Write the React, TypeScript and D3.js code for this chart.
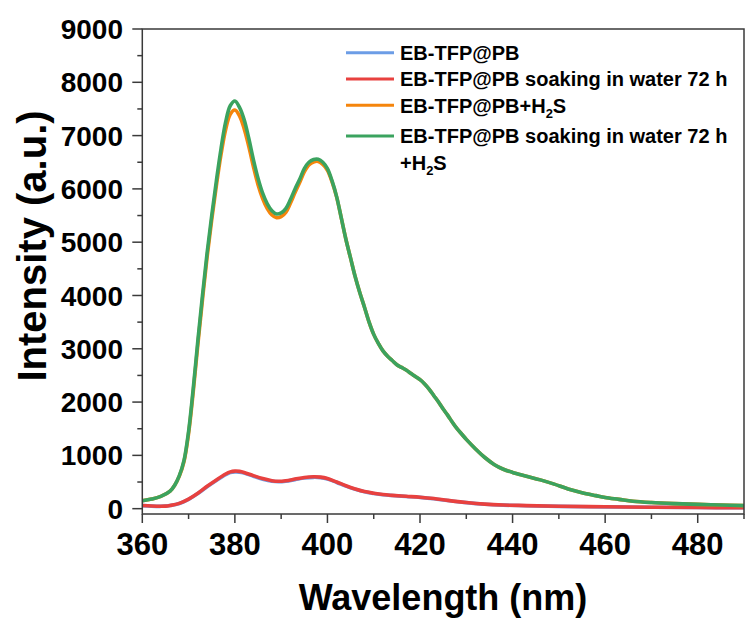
import React from "react";
import * as d3 from "d3";

// Emission spectra, wavelength (nm) vs. intensity (a.u.)
const wlGreen = [360, 362, 364, 366, 367, 368, 369, 370, 371, 372, 373, 374, 375, 376, 377, 378, 379, 380, 381, 382, 383, 384, 385, 386, 387, 388, 389, 390, 391, 392, 393, 394, 395, 396, 397, 398, 399, 400, 401, 402, 403, 404, 405, 406, 407, 408, 409, 410, 411, 412, 413, 414, 415, 416, 417, 418, 419, 420, 421, 422, 423, 424, 425, 426, 427, 428, 429, 430, 432, 434, 436, 438, 440, 443, 446, 449, 452, 455, 458, 460, 463, 466, 470, 475, 480, 485, 490];
const soakedH2S = [150, 180, 230, 330, 440, 620, 900, 1450, 2250, 3150, 4000, 4800, 5500, 6150, 6750, 7250, 7560, 7650, 7530, 7300, 6950, 6550, 6200, 5920, 5720, 5590, 5530, 5550, 5630, 5800, 6000, 6180, 6380, 6500, 6550, 6555, 6500, 6380, 6150, 5850, 5450, 5050, 4700, 4350, 4050, 3780, 3500, 3270, 3100, 2960, 2860, 2780, 2700, 2650, 2600, 2540, 2480, 2420, 2340, 2240, 2120, 2000, 1870, 1750, 1620, 1500, 1400, 1300, 1120, 960, 830, 740, 680, 610, 540, 460, 370, 300, 245, 210, 175, 140, 115, 95, 80, 68, 58];
const freshH2S = [150, 180, 230, 330, 440, 610, 880, 1410, 2190, 3080, 3920, 4720, 5420, 6060, 6640, 7110, 7400, 7480, 7370, 7130, 6800, 6420, 6080, 5820, 5630, 5510, 5460, 5480, 5560, 5730, 5930, 6120, 6320, 6450, 6505, 6515, 6460, 6350, 6130, 5840, 5450, 5050, 4700, 4350, 4050, 3780, 3500, 3270, 3100, 2960, 2860, 2780, 2700, 2650, 2600, 2540, 2480, 2420, 2340, 2240, 2120, 2000, 1870, 1750, 1620, 1500, 1400, 1300, 1120, 960, 830, 740, 680, 610, 540, 460, 370, 300, 245, 210, 175, 140, 115, 95, 80, 68, 58];

const wlLow = [360, 362, 364, 365, 366, 368, 370, 372, 374, 376, 378, 379, 380, 381, 382, 384, 386, 388, 389.5, 391, 393, 395, 397, 398.5, 400, 402, 404, 406, 408, 410, 412, 414, 417, 420, 423, 426, 430, 434, 438, 443, 450, 460, 470, 480, 490];
const soaked = [60, 50, 45, 48, 60, 100, 180, 290, 420, 540, 650, 690, 705, 700, 680, 620, 565, 525, 515, 525, 555, 585, 598, 592, 565, 500, 430, 370, 320, 290, 265, 250, 232, 215, 190, 155, 115, 85, 68, 58, 45, 35, 28, 22, 18];
const fresh = [58, 48, 44, 47, 58, 97, 175, 283, 410, 528, 636, 676, 690, 686, 667, 608, 554, 515, 506, 516, 545, 575, 588, 582, 556, 492, 424, 365, 316, 286, 262, 247, 229, 212, 187, 152, 113, 83, 66, 56, 43, 34, 27, 21, 17];

const xTicks = [360, 380, 400, 420, 440, 460, 480];
const xMinor = [370, 390, 410, 430, 450, 470, 490];
const yTicks = [0, 1000, 2000, 3000, 4000, 5000, 6000, 7000, 8000, 9000];
const yMinor = [500, 1500, 2500, 3500, 4500, 5500, 6500, 7500, 8500];

const seriesNames = [
  "EB-TFP@PB",
  "EB-TFP@PB soaking in water 72 h",
  "EB-TFP@PB+H",
  "EB-TFP@PB soaking in water 72 h",
];
const colors = ["#6c9de6", "#e8413f", "#f5850c", "#3ba35f"];

const W = 746;
const H = 621;
const left = 142.3;
const right = 744;
const top = 29;
const bottom = 514;

const FONT = "'Liberation Sans', Arial, Helvetica, sans-serif";

export default function App() {
  const x = d3.scaleLinear().domain([360, 490]).range([left, right]);
  const y = d3.scaleLinear().domain([-100, 9000]).range([bottom, top]);

  const line = d3
    .line<[number, number]>()
    .x((d) => x(d[0]))
    .y((d) => y(d[1]))
    .curve(d3.curveCatmullRom.alpha(0.5));

  const zip = (a: number[], b: number[]) => a.map((v, i) => [v, b[i]] as [number, number]);

  const curves = [
    { pts: zip(wlLow, fresh), color: colors[0] },
    { pts: zip(wlLow, soaked), color: colors[1] },
    { pts: zip(wlGreen, freshH2S), color: colors[2] },
    { pts: zip(wlGreen, soakedH2S), color: colors[3] },
  ];

  const axisColor = "#3a3a3a";
  const legendY = [52.7, 79, 105.3, 136];

  return (
    <svg
      width={W}
      height={H}
      style={{ position: "absolute", left: 0, top: 0, background: "#fff" }}
      fontFamily={FONT}
    >
      <defs>
        <clipPath id="plot">
          <rect x={left} y={top} width={right - left} height={bottom - top} />
        </clipPath>
      </defs>

      {/* spectra */}
      <g clipPath="url(#plot)" fill="none" strokeLinejoin="round" strokeLinecap="round">
        {curves.map((c, i) => (
          <path key={i} d={line(c.pts) || ""} stroke={c.color} strokeWidth={3.6} />
        ))}
      </g>

      {/* frame */}
      <rect
        x={left}
        y={top}
        width={right - left}
        height={bottom - top}
        fill="none"
        stroke={axisColor}
        strokeWidth={1.5}
      />

      {/* y ticks */}
      {yTicks.map((t) => (
        <g key={"y" + t}>
          <line x1={left - 10} x2={left} y1={y(t)} y2={y(t)} stroke={axisColor} strokeWidth={1.5} />
          <text
            x={123}
            y={y(t)}
            dy="0.36em"
            textAnchor="end"
            fontSize={28}
            fontWeight="bold"
            fill="#000"
          >
            {t}
          </text>
        </g>
      ))}
      {yMinor.map((t) => (
        <line key={"ym" + t} x1={left - 5} x2={left} y1={y(t)} y2={y(t)} stroke={axisColor} strokeWidth={1.5} />
      ))}

      {/* x ticks */}
      {xTicks.map((t) => (
        <g key={"x" + t}>
          <line x1={x(t)} x2={x(t)} y1={bottom} y2={bottom + 9} stroke={axisColor} strokeWidth={1.5} />
          <text x={x(t)} y={554.5} textAnchor="middle" fontSize={31} fontWeight="bold" fill="#000">
            {t}
          </text>
        </g>
      ))}
      {xMinor.map((t) => (
        <line key={"xm" + t} x1={x(t)} x2={x(t)} y1={bottom} y2={bottom + 5} stroke={axisColor} strokeWidth={1.5} />
      ))}

      {/* axis titles */}
      <text x={443} y={610} textAnchor="middle" fontSize={36} fontWeight="bold" fill="#000">
        Wavelength (nm)
      </text>
      <text
        transform={`translate(46,246) rotate(-90)`}
        textAnchor="middle"
        fontSize={40}
        fontWeight="bold"
        fill="#000"
      >
        Intensity (a.u.)
      </text>

      {/* legend */}
      <g fontSize={20} fontWeight="bold" fill="#000">
        {legendY.map((ly, i) => (
          <g key={"lg" + i}>
            <line x1={346} x2={394} y1={ly} y2={ly} stroke={colors[i]} strokeWidth={3} />
            <text x={400} y={ly} dy="0.36em">
              {seriesNames[i]}
              {i === 2 && (
                <>
                  <tspan fontSize={13} dy="5">2</tspan>
                  <tspan dy="-5">S</tspan>
                </>
              )}
            </text>
          </g>
        ))}
        <text x={400} y={162.7} dy="0.36em">
          +H
          <tspan fontSize={13} dy="5">2</tspan>
          <tspan dy="-5">S</tspan>
        </text>
      </g>
    </svg>
  );
}
